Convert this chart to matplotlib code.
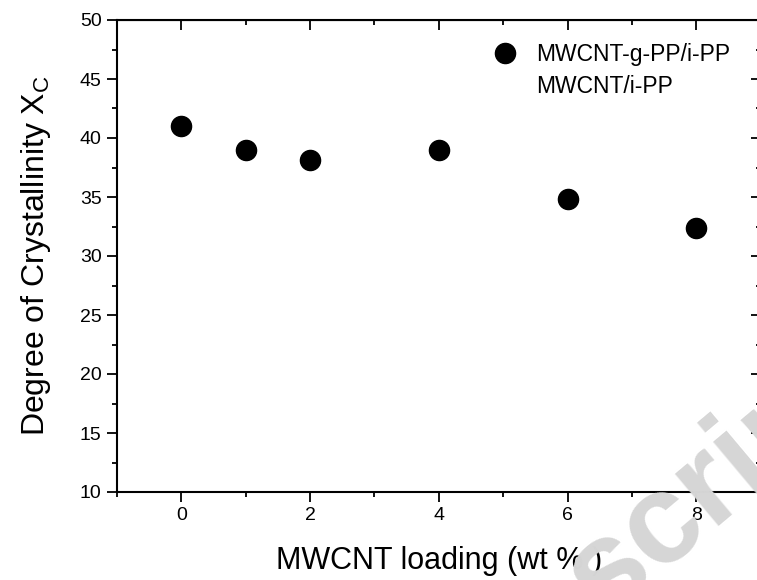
import matplotlib
matplotlib.use("Agg")
import matplotlib.pyplot as plt
from matplotlib.ticker import MultipleLocator

plt.rcParams['font.family'] = ['Liberation Sans', 'DejaVu Sans']
plt.rcParams['mathtext.fontset'] = 'custom'
plt.rcParams['mathtext.rm'] = 'Liberation Sans'

loading = [0, 1, 2, 4, 6, 8]
xc_grafted = [41.0, 39.0, 38.1, 39.0, 34.8, 32.4]
xc_plain = []  # empty series shown only in legend
x_ticks = [0, 2, 4, 6, 8]
y_ticks = [10, 15, 20, 25, 30, 35, 40, 45, 50]

fig = plt.figure(figsize=(7.57, 5.8), dpi=100)
# watermark behind
fig.text(0.945, 0.168, "script", rotation=40, fontsize=92, color='#d6d6d6',
         fontweight='bold', ha='center', va='center', rotation_mode='anchor', zorder=0)
ax = fig.add_axes([117/757, 88/580, (760.6-117)/757, (492-20)/580])
ax.patch.set_alpha(0)

ax.plot(loading, xc_grafted, 'o', color='black', markersize=14.5, label='MWCNT-g-PP/i-PP')
ax.plot(loading[:len(xc_plain)], xc_plain, 'o', color='black', markersize=0, label='MWCNT/i-PP')

ax.set_xlim(-1, 9)
ax.set_ylim(10, 50)
ax.set_xticks(x_ticks)
ax.set_yticks(y_ticks)
ax.xaxis.set_minor_locator(MultipleLocator(1))
ax.yaxis.set_minor_locator(MultipleLocator(2.5))

for s in ax.spines.values():
    s.set_linewidth(1.5)

ax.tick_params(which='both', direction='out', top=False, right=False, labelsize=14, width=1.3)
ax.tick_params(which='major', length=7, pad=4)
ax.tick_params(which='minor', length=3.5)

# top / right inward ticks
axt = ax.secondary_xaxis('top')
axt.set_xticks(x_ticks)
axt.xaxis.set_minor_locator(MultipleLocator(1))
axt.tick_params(which='both', direction='in', labeltop=False, width=1.3)
axt.tick_params(which='major', length=7)
axt.tick_params(which='minor', length=3.5)
axr = ax.secondary_yaxis('right')
axr.set_yticks(y_ticks)
axr.yaxis.set_minor_locator(MultipleLocator(2.5))
axr.tick_params(which='both', direction='in', labelright=False, width=1.3)
axr.tick_params(which='major', length=7)
axr.tick_params(which='minor', length=3.5)

ax.set_xlabel('MWCNT loading (wt % )', fontsize=22, labelpad=16)
ax.set_ylabel(r'Degree of Crystallinity X$_\mathregular{C}$', fontsize=23, labelpad=19)

leg = ax.legend(loc='upper left', bbox_to_anchor=(0.566, 0.97), frameon=False, fontsize=16.5,
                handletextpad=0.7, labelspacing=0.4, handlelength=1.3, borderaxespad=0)

fig.savefig('out.png', dpi=100)
